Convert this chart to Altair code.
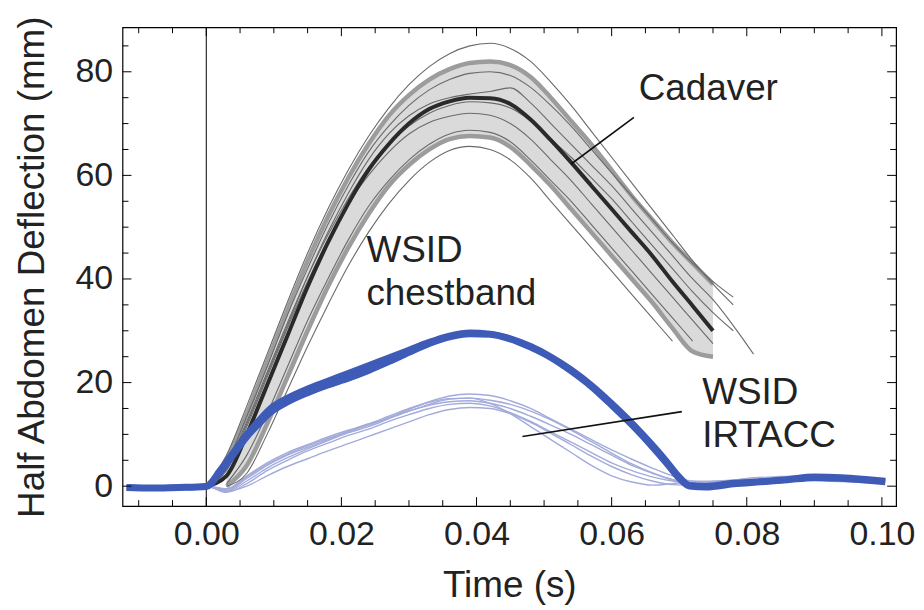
import altair as alt
import pandas as pd

# ---------------- data ----------------
T_CAD = [0.000, 0.003, 0.006, 0.009, 0.012, 0.015, 0.018, 0.021, 0.024, 0.027,
         0.030, 0.033, 0.036, 0.039, 0.042, 0.045, 0.048, 0.051, 0.054, 0.057,
         0.060, 0.063, 0.066, 0.069, 0.072, 0.075, 0.078, 0.081]

CAD_MEAN = [0.0, 2.0, 10.0, 19.5, 29.0, 38.5, 47.0, 54.5, 61.0, 66.0, 70.0, 72.8, 74.3, 75.0,
            74.9, 73.8, 70.8, 66.8, 62.5, 58.0, 53.5, 49.0, 44.5, 39.5, 34.8, 30.0, None, None]
CAD_UPPER = [0.0, 5.0, 14.0, 24.0, 34.0, 43.5, 52.0, 59.5, 66.0, 71.5, 75.5, 78.5, 80.5, 81.7,
             82.0, 81.3, 79.0, 75.0, 70.5, 66.0, 61.0, 56.0, 51.5, 47.0, 43.0, 39.0, None, None]
CAD_LOWER = [None, 0.0, 4.0, 12.0, 21.0, 30.0, 38.5, 46.0, 52.5, 58.0, 62.0, 65.0, 67.0, 67.6,
             67.3, 65.5, 62.0, 58.0, 53.5, 49.0, 44.5, 40.0, 35.5, 30.5, 26.0, 25.0, None, None]

CAD_L1 = [0.0, 6.0, 15.5, 25.5, 35.5, 45.0, 53.5, 61.0, 67.5, 73.0, 77.5, 81.0, 83.5, 85.0,
          85.5, 84.5, 82.0, 78.0, 73.5, 68.5, 63.5, 58.5, 53.5, 48.5, 43.5, 39.0, 35.0, None]
CAD_L2 = [None, 0.0, 2.5, 10.0, 18.5, 27.0, 35.0, 42.5, 49.0, 54.5, 59.0, 62.5, 64.8, 65.6,
          65.0, 63.0, 59.5, 55.0, 50.5, 46.0, 41.5, 37.0, 32.5, 28.0, None, None, None, None]
CAD_L3 = [0.0, 3.5, 12.0, 21.5, 31.0, 40.5, 49.0, 56.5, 63.0, 68.0, 71.5, 73.8, 75.0, 75.7,
          76.2, 76.9, 74.0, 70.0, 66.0, 62.0, 58.0, 53.5, 49.0, 44.5, 40.0, 36.0, 31.0, 25.5]
CAD_L4 = [0.0, 3.0, 11.5, 21.0, 30.5, 39.5, 47.5, 54.5, 60.0, 64.5, 68.0, 70.2, 71.4, 72.0,
          71.6, 70.0, 67.0, 63.0, 59.0, 54.5, 50.0, 45.5, 41.0, 36.5, 32.0, 27.5, None, None]
CAD_L5 = [0.0, 4.5, 13.5, 23.0, 33.0, 42.0, 50.5, 58.0, 64.5, 69.5, 73.5, 76.5, 78.5, 79.7,
          80.0, 79.3, 77.0, 73.5, 69.5, 65.0, 60.5, 56.0, 51.5, 47.0, 43.0, 39.5, 36.5, None]
CAD_L6 = [None, 0.5, 6.0, 14.0, 23.0, 32.0, 40.0, 47.5, 54.0, 59.0, 63.0, 66.0, 68.0, 68.7,
          68.3, 66.5, 63.0, 59.0, 55.0, 50.5, 46.0, 41.5, 37.0, 32.5, 28.0, None, None, None]
CAD_L7 = [0.0, 4.0, 12.5, 22.0, 31.5, 40.5, 48.5, 55.5, 61.5, 66.0, 69.5, 72.0, 73.5, 74.2,
          74.0, 73.0, 70.5, 67.0, 63.5, 59.5, 55.5, 51.0, 46.5, 42.0, 37.5, 33.5, 30.0, None]

T_CB = [-0.0118, -0.008, -0.004, 0.000, 0.002, 0.004, 0.006, 0.008, 0.0095, 0.012,
        0.015, 0.018, 0.021, 0.024, 0.027, 0.030, 0.033, 0.036, 0.039, 0.042,
        0.045, 0.048, 0.051, 0.054, 0.057, 0.060, 0.063, 0.066, 0.068, 0.070,
        0.0715, 0.074, 0.078, 0.082, 0.086, 0.090, 0.094, 0.098, 0.1005]
CHEST_A = [-0.2, -0.3, -0.2, 0.0, 3.0, 6.5, 10.0, 13.0, 15.0, 17.0,
           18.8, 20.3, 21.8, 23.3, 24.8, 26.3, 27.8, 29.0, 29.6, 29.4,
           28.5, 27.0, 25.0, 22.5, 19.5, 16.0, 12.2, 8.0, 5.0, 1.8,
           0.2, 0.0, 0.6, 0.9, 1.3, 1.8, 1.7, 1.3, 1.0]
CHEST_B = [-0.3, -0.4, -0.3, -0.1, 2.5, 6.0, 9.5, 12.3, 14.2, 16.2,
           18.0, 19.5, 20.8, 22.3, 24.0, 25.8, 27.5, 28.8, 29.4, 29.3,
           28.4, 26.8, 24.8, 22.2, 19.2, 15.6, 11.8, 7.6, 4.6, 1.5,
           0.0, -0.2, 0.4, 0.8, 1.2, 1.6, 1.5, 1.1, 0.8]

T_IR = [-0.010, 0.000, 0.003, 0.006, 0.009, 0.012, 0.015, 0.018, 0.021, 0.024, 0.027,
        0.030, 0.033, 0.036, 0.039, 0.042, 0.045, 0.048, 0.051, 0.054, 0.057, 0.060,
        0.063, 0.066, 0.069, 0.072, 0.076, 0.080, 0.084, 0.088, 0.092, 0.096, 0.100]
IR_1 = [0.0, 0.0, -0.8, 1.5, 4.0, 6.0, 7.5, 9.0, 10.5, 11.8, 13.2, 14.8, 16.3, 17.4, 17.8, 17.5,
        16.5, 15.0, 13.0, 11.0, 9.0, 7.0, 5.2, 3.5, 2.0, 1.0, 0.8, 1.5, 1.8, 2.0, 1.7, 1.2, 1.0]
IR_2 = [0.0, 0.0, -1.0, 1.0, 3.5, 5.5, 7.2, 8.8, 10.3, 11.5, 13.0, 14.5, 15.8, 16.8, 17.0, 16.0,
        14.0, 11.5, 9.0, 6.5, 4.0, 2.0, 0.8, 0.2, 0.5, 0.8, 1.0, 0.5, 1.0, 1.5, 1.2, 0.8, 0.5]
IR_3 = [0.0, 0.0, -0.5, 2.0, 4.5, 6.5, 8.0, 9.5, 10.8, 12.0, 13.2, 14.5, 15.6, 16.3, 16.5, 16.0,
        15.0, 13.5, 11.8, 10.0, 8.0, 6.0, 4.0, 2.5, 1.2, 0.5, 0.5, 1.0, 1.5, 1.5, 1.3, 1.0, 0.8]
IR_4 = [0.0, 0.0, -1.2, 0.5, 3.0, 5.0, 6.8, 8.3, 9.8, 11.0, 12.5, 13.8, 15.0, 15.8, 16.0, 15.5,
        14.2, 12.5, 10.5, 8.5, 6.5, 4.5, 3.0, 1.8, 1.0, 0.6, 1.0, 1.3, 1.0, 1.8, 1.5, 1.1, 0.7]
IR_5 = [0.0, 0.0, -1.0, 0.0, 2.0, 3.8, 5.3, 6.8, 8.2, 9.6, 11.0, 12.4, 13.8, 14.8, 15.2, 15.0,
        14.0, 12.3, 10.2, 8.0, 5.8, 3.8, 2.2, 1.0, 0.3, 0.2, 0.6, 0.8, 1.2, 1.4, 1.0, 0.8, 0.6]
IR_6 = [0.0, 0.0, -0.6, 1.8, 4.2, 6.2, 7.8, 9.2, 10.6, 12.0, 13.5, 15.0, 16.2, 16.9, 17.0, 16.6,
        15.8, 14.5, 12.8, 10.8, 8.6, 6.4, 4.3, 2.6, 1.3, 0.7, 0.8, 1.2, 1.6, 2.0, 1.8, 1.3, 1.0]

X_TICKS = [0.00, 0.02, 0.04, 0.06, 0.08, 0.10]
X_MINOR = [-0.010, -0.005, 0.005, 0.010, 0.015, 0.025, 0.030, 0.035, 0.045, 0.050, 0.055,
           0.065, 0.070, 0.075, 0.085, 0.090, 0.095]
Y_TICKS = [0, 20, 40, 60, 80]
Y_MINOR = [5, 10, 15, 25, 30, 35, 45, 50, 55, 65, 70, 75, 85]

LABEL_TEXT = ["Cadaver", "WSID", "chestband", "WSID", "IRTACC"]
LABEL_X = [0.0640, 0.0237, 0.0237, 0.0734, 0.0734]
LABEL_Y = [74.5, 43.3, 35.0, 15.8, 7.6]

LEADER_X = [0.0633, 0.0704]
LEADER_Y = [71.2, 14.4]
LEADER_X2 = [0.0540, 0.0468]
LEADER_Y2 = [62.2, 9.6]

X_DOMAIN = [-0.0124, 0.1021]
Y_DOMAIN = [-3.85, 88.6]

# ---------------- build tables ----------------
def long_table(times, series):
    rows = []
    for name, vals in series.items():
        for t, v in zip(times, vals):
            if v is not None:
                rows.append({"t": t, "v": v, "id": name})
    return pd.DataFrame(rows)

cad_thin = long_table(T_CAD, {"L1": CAD_L1, "L2": CAD_L2, "L3": CAD_L3, "L4": CAD_L4,
                              "L5": CAD_L5, "L6": CAD_L6, "L7": CAD_L7})
cad_bounds = long_table(T_CAD, {"up": CAD_UPPER, "lo": CAD_LOWER})
cad_mean = long_table(T_CAD, {"mean": CAD_MEAN})
band = pd.DataFrame([{"t": t, "hi": u, "lo": l} for t, u, l in zip(T_CAD, CAD_UPPER, CAD_LOWER)
                     if u is not None and l is not None])
chest = long_table(T_CB, {"A": CHEST_A, "B": CHEST_B})
irtacc = long_table(T_IR, {"I1": IR_1, "I2": IR_2, "I3": IR_3, "I4": IR_4, "I5": IR_5, "I6": IR_6})
labels = pd.DataFrame({"text": LABEL_TEXT, "t": LABEL_X, "v": LABEL_Y})
leaders = pd.DataFrame({"t": LEADER_X, "v": LEADER_Y, "t2": LEADER_X2, "v2": LEADER_Y2})

W, H = 777, 481
FONT = "Liberation Sans"

xs = alt.Scale(domain=X_DOMAIN, nice=False, zero=False)
ys = alt.Scale(domain=Y_DOMAIN, nice=False, zero=False)
x_axis = alt.Axis(values=X_TICKS, format=".2f", title="Time (s)", ticks=False, domain=False,
                  grid=False, labelPadding=12, titlePadding=16, labelFlush=False)
y_axis = alt.Axis(values=Y_TICKS, format="d", title="Half Abdomen Deflection (mm)", ticks=False,
                  domain=False, grid=False, labelPadding=10, titlePadding=24, labelFlush=False)

X = alt.X("t:Q", scale=xs, axis=x_axis)
Y = alt.Y("v:Q", scale=ys, axis=y_axis)

zero_line = alt.Chart(pd.DataFrame({"t": [0.0]})).mark_rule(color="#000000", strokeWidth=1).encode(
    x=X, y=alt.value(0), y2=alt.value(H))

ir_layer = alt.Chart(irtacc).mark_line(color="#a3abda", strokeWidth=1.4, clip=True,
                                       interpolate="monotone").encode(
    x=X, y=Y, detail="id:N")

band_layer = alt.Chart(band).mark_area(color="#dadada", clip=True, interpolate="monotone").encode(
    x=X, y=alt.Y("hi:Q", scale=ys, axis=y_axis), y2="lo:Q")

bound_layer = alt.Chart(cad_bounds).mark_line(color="#9c9c9c", strokeWidth=4.5, clip=True,
                                              interpolate="monotone").encode(
    x=X, y=Y, detail="id:N")

thin_layer = alt.Chart(cad_thin).mark_line(color="#6a6a6a", strokeWidth=1.1, clip=True,
                                           interpolate="monotone").encode(
    x=X, y=Y, detail="id:N")

mean_layer = alt.Chart(cad_mean).mark_line(color="#2a2a2a", strokeWidth=4, clip=True,
                                           interpolate="monotone").encode(
    x=X, y=Y)

chest_layer = alt.Chart(chest).mark_line(color="#3e5bb7", strokeWidth=6.5, clip=True,
                                         interpolate="monotone").encode(
    x=X, y=Y, detail="id:N")

leader_layer = alt.Chart(leaders).mark_rule(color="#111111", strokeWidth=1.6).encode(
    x=X, y=Y, x2="t2:Q", y2="v2:Q")

text_layer = alt.Chart(labels).mark_text(align="left", baseline="alphabetic", font=FONT,
                                         fontSize=37, color="#222222").encode(
    x=X, y=Y, text="text:N")

# inward ticks on all four sides
def xticks(vals, length):
    d = pd.DataFrame({"t": vals})
    bottom = alt.Chart(d).mark_rule(color="#000", strokeWidth=1).encode(
        x=X, y=alt.value(H), y2=alt.value(H - length))
    top = alt.Chart(d).mark_rule(color="#000", strokeWidth=1).encode(
        x=X, y=alt.value(0), y2=alt.value(length))
    return [bottom, top]

def yticks(vals, length):
    d = pd.DataFrame({"v": vals})
    left = alt.Chart(d).mark_rule(color="#000", strokeWidth=1).encode(
        y=Y, x=alt.value(0), x2=alt.value(length))
    right = alt.Chart(d).mark_rule(color="#000", strokeWidth=1).encode(
        y=Y, x=alt.value(W), x2=alt.value(W - length))
    return [left, right]

tick_layers = xticks(X_TICKS, 9) + xticks(X_MINOR, 6) + yticks(Y_TICKS, 9) + yticks(Y_MINOR, 6)

chart = alt.layer(
    zero_line, ir_layer, band_layer, bound_layer, thin_layer, mean_layer, chest_layer,
    leader_layer, text_layer, *tick_layers
).properties(
    width=W, height=H,
    autosize=alt.AutoSizeParams(type="none"),
    padding={"left": 115, "top": 18, "right": 20, "bottom": 100},
    background="white",
).configure_view(
    stroke="#000000", strokeWidth=1.2
).configure_axis(
    labelFont=FONT, labelFontSize=34, labelColor="#222222",
    titleFont=FONT, titleFontSize=37, titleFontWeight="normal", titleColor="#222222",
)

chart.save("out.html", embed_options={"renderer": "svg", "actions": False})
